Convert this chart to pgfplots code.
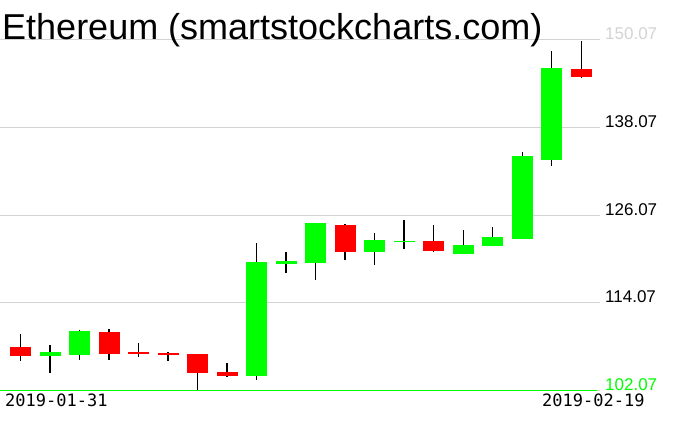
\documentclass[border=0pt]{standalone}
\usepackage{pgfplots}
\usepackage{pgfplotstable}
\pgfplotsset{compat=1.18}
\usepackage{fontspec}
\setmainfont{Liberation Sans}
\newfontfamily\monofont{DejaVu Sans Mono}

\definecolor{upc}{HTML}{00FF00}
\definecolor{downc}{HTML}{FF0000}
\definecolor{gridc}{HTML}{D3D3D3}

% i = day index, o h l c
\pgfplotstableread{
i  o       h       l       c
1  106.81  108.28  104.48  107.32
2  106.95  110.30  106.26  110.19
8  104.07  122.25  103.52  119.65
9  119.41  121.02  118.18  119.78
10 119.55  125.05  117.22  124.99
12 121.06  123.62  119.28  122.66
13 122.38  125.40  121.47  122.52
15 120.78  124.03  120.72  121.97
16 121.88  124.44  121.82  123.07
17 122.84  134.67  122.80  134.17
18 133.66  148.55  132.84  146.22
}\up

\pgfplotstableread{
i  o       h       l       c
0  108.00  109.78  106.12  106.81
3  110.06  110.47  106.26  107.08
4  107.32  108.55  106.67  107.08
5  107.18  107.32  106.12  106.95
6  107.04  107.10  102.15  104.48
7  104.58  105.81  103.93  104.07
11 124.71  124.80  119.96  121.06
14 122.52  124.71  121.05  121.19
19 146.08  149.96  144.89  145.03
}\down

\begin{document}
\begin{tikzpicture}
\path[use as bounding box] (0,0) rectangle (676pt,431pt);
\begin{axis}[
    at={(0pt,40.7pt)}, anchor=south west,
    scale only axis, width=600pt, height=390.3pt,
    xmin=-0.695, xmax=19.64,
    ymin=102.07, ymax=155.54,
    clip=false,
    axis line style={draw=none},
    tick style={draw=none},
    xtick=\empty,
    ytick={102.07,114.07,126.07,138.07,150.07},
    yticklabels={\textcolor{upc}{102.07},114.07,126.07,138.07,\textcolor{gridc}{150.07}},
    yticklabel pos=right,
    y tick label style={anchor=base west, inner sep=0pt, xshift=5pt, font=\fontsize{17}{17}\selectfont},
    ymajorgrids, major grid style={gridc, line width=1pt},
    candle/.style={forget plot, draw=none, mark=none,
        error bars/y dir=plus, error bars/y explicit, error bars/error mark=none},
]
% wicks
\addplot[candle, error bars/error bar style={draw=black, line width=1.2pt}]
    table[x=i, y=l, y error plus expr={\thisrow{h}-\thisrow{l}}] {\up};
\addplot[candle, error bars/error bar style={draw=black, line width=1.2pt}]
    table[x=i, y=l, y error plus expr={\thisrow{h}-\thisrow{l}}] {\down};
% bodies
\addplot[candle, error bars/error bar style={draw=upc, line width=21pt}]
    table[x=i, y=o, y error plus expr={\thisrow{c}-\thisrow{o}}] {\up};
\addplot[candle, error bars/error bar style={draw=downc, line width=21pt}]
    table[x=i, y=c, y error plus expr={\thisrow{o}-\thisrow{c}}] {\down};
\draw[upc, line width=1.2pt] (rel axis cs:0,0) -- (rel axis cs:0.995,0);
\node[anchor=north west, inner sep=0pt, font=\monofont\fontsize{17}{17}\selectfont]
    at ([xshift=5pt,yshift=-3.5pt]rel axis cs:0,0) {2019-01-31};
\node[anchor=north west, inner sep=0pt, font=\monofont\fontsize{17}{17}\selectfont]
    at ([xshift=542pt,yshift=-3.5pt]rel axis cs:0,0) {2019-02-19};
\end{axis}
\node[anchor=base west, inner sep=0pt, font=\fontsize{36}{36}\selectfont]
    at (2pt,391pt) {Ethereum (smartstockcharts.com)};
\end{tikzpicture}
\end{document}
